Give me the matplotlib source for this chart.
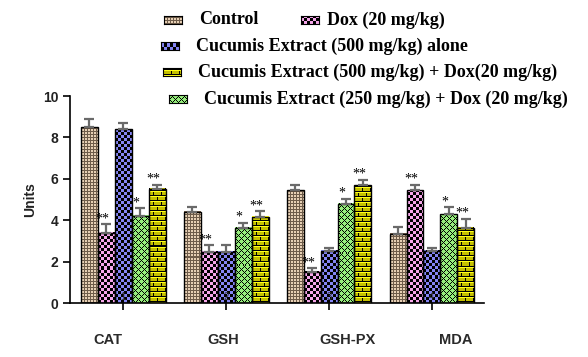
import numpy as np
import matplotlib
matplotlib.use("Agg")
import matplotlib.pyplot as plt

categories = ["CAT", "GSH", "GSH-PX", "MDA"]
series_names = ["Control", "Dox (20 mg/kg)", "Cucumis Extract (500 mg/kg) alone",
                "Cucumis Extract (250 mg/kg) + Dox (20 mg/kg)",
                "Cucumis Extract (500 mg/kg) + Dox(20 mg/kg)"]
control = [8.49, 4.39, 5.45, 3.36]
control_err = [0.42, 0.27, 0.27, 0.34]
dox = [3.38, 2.49, 1.52, 5.45]
dox_err = [0.43, 0.31, 0.18, 0.27]
ext500 = [8.39, 2.49, 2.51, 2.51]
ext500_err = [0.32, 0.31, 0.14, 0.14]
ext250_dox = [4.23, 3.62, 4.78, 4.29]
ext250_dox_err = [0.35, 0.27, 0.26, 0.34]
ext500_dox = [5.51, 4.15, 5.69, 3.63]
ext500_dox_err = [0.21, 0.29, 0.27, 0.45]
stars = ["", "**", "", "*", "**"]
y_ticks = [0, 2, 4, 6, 8, 10]
group_marks = ["1", "2", "3", "4"]

values = [control, dox, ext500, ext250_dox, ext500_dox]
errors = [control_err, dox_err, ext500_err, ext250_dox_err, ext500_dox_err]
patterns = ["control", "pink", "blue", "green", "yellow"]


def texture(kind, w, h):
    w = max(int(round(w)), 1)
    h = max(int(round(h)), 1)
    r = np.arange(h)[::-1][:, None] * np.ones((1, w), int)   # row from bottom
    c = np.ones((h, 1), int) * np.arange(w)[None, :]
    img = np.zeros((h, w, 3))

    def col(hexs):
        hexs = hexs.lstrip("#")
        return np.array([int(hexs[i:i + 2], 16) / 255 for i in (0, 2, 4)])

    if kind == "control":
        base, dark = col("#e6cfb4"), col("#6e5c4a")
        m = ((r % 3) == 0) | ((c % 3) == 0)
        img[:] = base
        img[m] = dark
    elif kind in ("pink", "blue"):
        base = col("#f6a6ea") if kind == "pink" else col("#8484f4")
        m = ((r // 3 + c // 3) % 2) == 0
        img[:] = base
        img[m] = (0, 0, 0)
    elif kind == "green":
        g = col("#96ee7c")
        img[:] = (0, 0, 0)
        dx1 = ((c + 3) % 6) - 3
        dy1 = ((r + 3) % 6) - 3
        dx2 = (c % 6) - 3
        dy2 = (r % 6) - 3
        m = (np.abs(dx1) + np.abs(dy1) <= 2.0) | (np.abs(dx2) + np.abs(dy2) <= 2.0)
        img[m] = g
    elif kind == "yellow":
        y, o = col("#ffff1a"), col("#c4c000")
        img[:] = o
        rr = r % 5
        img[rr == 0] = y
        img[rr == 1] = (0, 0, 0)
        brick = r // 5
        vert = ((c + 4 * (brick % 2)) % 8 == 0) & (rr >= 2)
        img[vert] = (0, 0, 0)
    return img


fig = plt.figure(figsize=(5.88, 3.57), dpi=100)
W, H = 588, 357
ax = fig.add_axes([70 / W, 1 - 303.3 / H, (484 - 70) / W, (303.3 - 96) / H])
ax.set_xlim(-0.515, 3.505)
ax.set_ylim(0, 10)

n = len(values)
bw = 0.165
x = np.arange(len(categories))
offsets = (np.arange(n) - (n - 1) / 2) * bw

for i in range(n):
    bars = ax.bar(x + offsets[i], values[i], width=bw, facecolor="none",
                  edgecolor="black", linewidth=1.0, zorder=3)
    for j, b in enumerate(bars):
        x0, x1 = b.get_x(), b.get_x() + b.get_width()
        h = b.get_height()
        p0 = ax.transData.transform((x0, 0))
        p1 = ax.transData.transform((x1, h))
        img = texture(patterns[i], p1[0] - p0[0], p1[1] - p0[1])
        ax.imshow(img, extent=(x0, x1, 0, h), origin="upper",
                  interpolation="nearest", aspect="auto", zorder=2)
    ax.errorbar(x + offsets[i], values[i], yerr=[np.zeros(len(x)), errors[i]],
                fmt="none", ecolor="#6a6a6a", elinewidth=1.6, capsize=3.5,
                capthick=1.6, zorder=4)
    if stars[i]:
        for j in range(len(x)):
            ax.text(x[j] + offsets[i] - 0.04, values[i][j] + errors[i][j] - 0.05,
                    stars[i], ha="center", va="bottom", fontsize=10,
                    family="Liberation Serif", color="black", zorder=5)

for j in range(len(x)):
    ax.text(x[j], 0.3, group_marks[j], ha="center", va="center", fontsize=7,
            color="#333333", zorder=5, family="Liberation Sans")

ax.set_xlim(-0.515, 3.505)
ax.set_ylim(0, 10)
for s in ("top", "right"):
    ax.spines[s].set_visible(False)
ax.spines["left"].set_linewidth(1.2)
ax.spines["bottom"].set_linewidth(1.2)
ax.set_yticks(y_ticks)
ax.set_yticklabels([str(t) for t in y_ticks], fontsize=10, fontweight="bold",
                   family="Liberation Sans", color="#222222")
ax.set_xticks(x)
ax.set_xticklabels([])
ax.tick_params(axis="both", direction="out", length=5, width=1.2)
ax.set_ylabel("Units", fontsize=10, fontweight="bold", family="Liberation Sans",
              color="#222222", labelpad=4)

cat_px = [108.3, 223.3, 348, 455.7]
for name, px in zip(categories, cat_px):
    fig.text(px / W, 1 - 340 / H, name, ha="center", va="center", fontsize=10.5,
             fontweight="bold", family="Liberation Sans", color="#2a2a2a")

# legend
legend_items = [
    (0, 164, 20, 199),
    (1, 301, 20, 327),
    (2, 161, 46, 196),
    (4, 163, 72, 198),
    (3, 169, 99, 204),
]
sw, sh = 18, 8
for idx, sx, sy, tx in legend_items:
    lax = fig.add_axes([sx / W, 1 - (sy + sh / 2) / H, sw / W, sh / H])
    lax.imshow(texture(patterns[idx], sw, sh), interpolation="nearest",
               aspect="auto")
    lax.set_xticks([])
    lax.set_yticks([])
    for s in lax.spines.values():
        s.set_linewidth(0.8)
    fig.text(tx / W, 1 - sy / H, series_names[idx], ha="left", va="center",
             fontsize=13, fontweight="bold", family="Liberation Serif",
             color="black")

fig.savefig("out.png", dpi=100)
